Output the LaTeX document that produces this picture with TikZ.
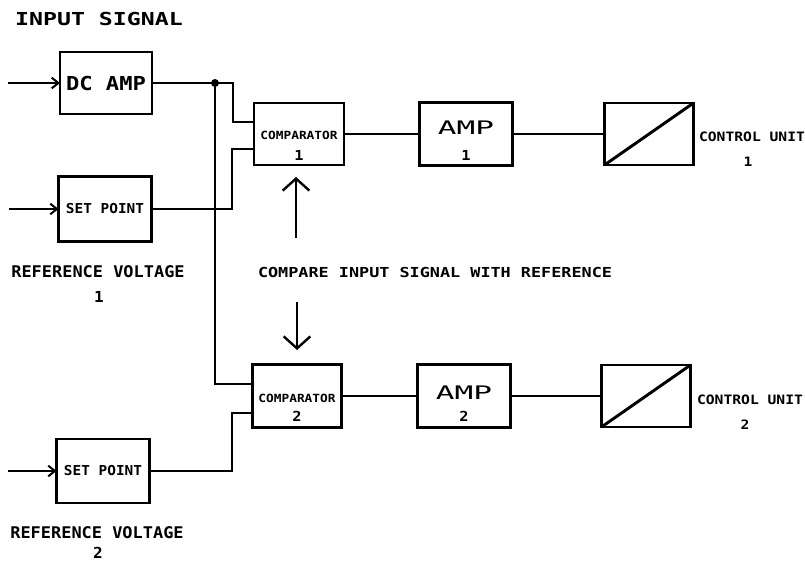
\documentclass[tikz,border=0pt]{standalone}
\usepackage{fontspec}
\usepackage{graphicx}
\usetikzlibrary{arrows.meta,calc}
\newfontfamily\pf{DejaVu Sans Mono}
\newcommand\ptxt[3]{{\fontsize{#1}{#1}\selectfont\scalebox{1}[#2]{#3}}}
\begin{document}
\begin{tikzpicture}[x=0.75pt,y=-0.75pt,
  blk/.style={draw,line width=2.2pt,inner sep=0pt,outer sep=0pt},
  wire/.style={line width=2.2pt},
  lbl/.style={inner sep=0pt,font=\pf\bfseries},
  lblr/.style={inner sep=0pt,font=\pf},
  inarr/.style={line width=2.2pt,-{Straight Barb[length=5pt,width=8pt,line width=1.5pt]}},
  bigarr/.style={line width=2.2pt,-{Straight Barb[length=9pt,width=20pt,line width=1.8pt]}}]
\useasboundingbox (0,0) rectangle (805,566);
\fill[white] (0,0) rectangle (805,566);

% boxes
\node[blk,minimum width=69pt,minimum height=46.5pt] (dcamp) at (106,83) {};
\node[blk,minimum width=69.75pt,minimum height=48.75pt] (sp1) at (105,209) {};
\node[blk,minimum width=69.75pt,minimum height=48pt] (sp2) at (103,471) {};
\node[blk,minimum width=67.5pt,minimum height=46.5pt] (comp1) at (299,134) {};
\node[blk,minimum width=69.75pt,minimum height=47.25pt] (amp1) at (466,134) {};
\node[blk,minimum width=66.75pt,minimum height=46.5pt] (cu1) at (649,134) {};
\node[blk,minimum width=66.75pt,minimum height=47.25pt] (comp2) at (297,396) {};
\node[blk,minimum width=69.75pt,minimum height=47.25pt] (amp2) at (464,396) {};
\node[blk,minimum width=66.75pt,minimum height=46.5pt] (cu2) at (646,396) {};

% box texts
\node[lbl] (dct) at (dcamp) {\ptxt{16.6pt}{0.87}{DC AMP}};
\node[lbl] (sp1t) at (sp1) {\ptxt{10.8pt}{0.95}{SET POINT}};
\node[lbl] (sp2t) at (sp2) {\ptxt{10.8pt}{0.95}{SET POINT}};
\node[lbl] (c1t) at ($(comp1)+(0,1)$) {\ptxt{9.6pt}{0.88}{COMPARATOR}};
\node[lbl] (c1n) at ($(comp1)+(0,21)$) {\ptxt{11.5pt}{0.9}{1}};
\node[lbl] (c2t) at ($(comp2)+(0,2)$) {\ptxt{9.6pt}{0.88}{COMPARATOR}};
\node[lbl] (c2n) at ($(comp2)+(0,20)$) {\ptxt{11.5pt}{0.9}{2}};
\node[lblr] (a1t) at ($(amp1)+(0,-6)$) {\ptxt{23.3pt}{0.6}{AMP}};
\node[lbl] (a1n) at ($(amp1)+(0,21)$) {\ptxt{11.5pt}{0.9}{1}};
\node[lblr] (a2t) at ($(amp2)+(0,-3)$) {\ptxt{23.3pt}{0.6}{AMP}};
\node[lbl] (a2n) at ($(amp2)+(0,20)$) {\ptxt{11.5pt}{0.9}{2}};

% free labels
\node[lbl] (insig) at (99,19) {\ptxt{17.4pt}{0.77}{INPUT SIGNAL}};
\node[lbl] (rv1) at (98,272) {\ptxt{12.7pt}{0.95}{REFERENCE VOLTAGE}};
\node[lbl] (rv1n) at (99,297) {\ptxt{12pt}{0.95}{1}};
\node[lbl] (rv2) at (97,533) {\ptxt{12.7pt}{0.95}{REFERENCE VOLTAGE}};
\node[lbl] (rv2n) at (98,553) {\ptxt{12pt}{0.95}{2}};
\node[lbl] (cmp) at (435,272) {\ptxt{12.6pt}{0.82}{COMPARE INPUT SIGNAL WITH REFERENCE}};
\node[lbl] (cu1t) at (752,137) {\ptxt{11pt}{0.88}{CONTROL UNIT}};
\node[lbl] (cu1n) at (748,162) {\ptxt{11pt}{0.88}{1}};
\node[lbl] (cu2t) at (750,400) {\ptxt{11pt}{0.88}{CONTROL UNIT}};
\node[lbl] (cu2n) at (745,425) {\ptxt{11pt}{0.88}{2}};

% coordinates
\coordinate (in1) at (8,83);
\coordinate (in2) at (9,209);
\coordinate (in3) at (8,471);
\coordinate (j) at (215,83);
\coordinate (k1) at (233,122);
\coordinate (k2) at (232,149);
\coordinate (k3) at (232,413);
\coordinate (c2a) at (215,384);
\coordinate (up1) at (296,238);
\coordinate (up2) at (296,177);
\coordinate (dn1) at (297,302);
\coordinate (dn2) at (297,350);

% input arrows
\draw[inarr] (in1) -- (in1 -| dcamp.west);
\draw[inarr] (in2) -- (in2 -| sp1.west);
\draw[inarr] (in3) -- (in3 -| sp2.west);

% wiring
\draw[wire] (dcamp.east) -| (k1) -- (k1 -| comp1.west);
\draw[wire] (j) -- (c2a) -- (c2a -| comp2.west);
\fill (j) circle[radius=3pt];
\draw[wire] (sp1.east) -| (k2) -- (k2 -| comp1.west);
\draw[wire] (sp2.east) -| (k3) -- (k3 -| comp2.west);
\draw[wire] (comp1.east) -- (amp1.west);
\draw[wire] (amp1.east) -- (cu1.west);
\draw[wire] (comp2.east) -- (amp2.west);
\draw[wire] (amp2.east) -- (cu2.west);
\draw[wire] (cu1.south west) -- (cu1.north east);
\draw[wire] (cu2.south west) -- (cu2.north east);

% comparison arrows
\draw[bigarr] (up1) -- (up2);
\draw[bigarr] (dn1) -- (dn2);
\end{tikzpicture}
\end{document}
